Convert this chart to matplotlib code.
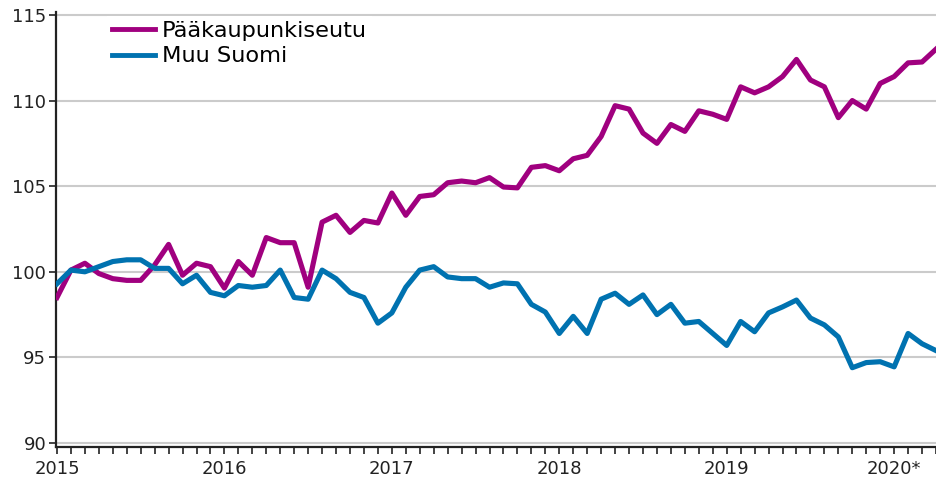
import matplotlib
matplotlib.use("Agg")
import matplotlib.pyplot as plt
import numpy as np

series_names = ["Pääkaupunkiseutu", "Muu Suomi"]
year_labels = ["2015", "2016", "2017", "2018", "2019", "2020*"]

paakaupunkiseutu = [
    98.5, 100.1, 100.5, 99.9, 99.6, 99.5, 99.5, 100.4, 101.6, 99.8, 100.5, 100.3,
    99.05, 100.6, 99.8, 102.0, 101.7, 101.7, 99.1, 102.9, 103.3, 102.3, 103.0, 102.85,
    104.6, 103.3, 104.4, 104.5, 105.2, 105.3, 105.2, 105.5, 104.95, 104.9, 106.1, 106.2,
    105.9, 106.6, 106.8, 107.9, 109.7, 109.5, 108.1, 107.5, 108.6, 108.2, 109.4, 109.2,
    108.9, 110.8, 110.45, 110.8, 111.4, 112.4, 111.2, 110.8, 109.0, 110.0, 109.5, 111.0,
    111.4, 112.2, 112.25, 113.0,
]
muu_suomi = [
    99.3, 100.1, 100.0, 100.3, 100.6, 100.7, 100.7, 100.2, 100.2, 99.3, 99.8, 98.8,
    98.6, 99.2, 99.1, 99.2, 100.1, 98.5, 98.4, 100.1, 99.6, 98.8, 98.5, 97.0,
    97.6, 99.1, 100.1, 100.3, 99.7, 99.6, 99.6, 99.1, 99.35, 99.3, 98.1, 97.65,
    96.4, 97.4, 96.4, 98.4, 98.75, 98.1, 98.65, 97.5, 98.1, 97.0, 97.1, 96.4,
    95.7, 97.1, 96.5, 97.6, 97.95, 98.35, 97.3, 96.9, 96.2, 94.4, 94.7, 94.75,
    94.45, 96.4, 95.8, 95.4,
]

purple = "#a0007f"
blue = "#0072b0"

W, H = 936, 479
fig = plt.figure(figsize=(W / 100, H / 100), dpi=100)
left_px, right_px, top_px, bottom_px = 56, 936, 12, 447
ax = fig.add_axes([left_px / W, 1 - bottom_px / H, (right_px - left_px) / W, (bottom_px - top_px) / H])

x = np.arange(len(paakaupunkiseutu))
ax.plot(x, paakaupunkiseutu, color=purple, lw=3.7, label=series_names[0], solid_joinstyle="round", zorder=3)
ax.plot(x, muu_suomi, color=blue, lw=3.7, label=series_names[1], solid_joinstyle="round", zorder=3)

ax.set_xlim(-0.07, 63)
ax.set_ylim(89.77, 115.17)
ax.set_yticks([90, 95, 100, 105, 110, 115])
ax.set_yticklabels(["90", "95", "100", "105", "110", "115"])
for v in [90, 95, 100, 105, 110, 115]:
    ax.axhline(v, color="#cbcbcb", lw=1.5, zorder=1)

ax.set_xticks(np.arange(0, 64, 12))
ax.set_xticklabels(year_labels)
ax.set_xticks(np.arange(0, 64, 1), minor=True)

for s in ["top", "right"]:
    ax.spines[s].set_visible(False)
for s in ["left", "bottom"]:
    ax.spines[s].set_color("#222222")
    ax.spines[s].set_linewidth(1.6)

ax.tick_params(axis="y", length=5, width=1.2, labelsize=13, pad=2, colors="#222222")
ax.tick_params(axis="x", which="both", length=5, width=1.2, labelsize=13, pad=4.5, colors="#222222")

leg = ax.legend(loc="upper left", bbox_to_anchor=(0.058, 0.99), frameon=True, fontsize=16.2,
                handlelength=1.95, handletextpad=0.3, labelspacing=0.25, borderpad=0.2,
                borderaxespad=0.0, fancybox=False)
leg.get_frame().set_edgecolor("none")
leg.get_frame().set_facecolor("white")
leg.get_frame().set_alpha(1)
for line in leg.get_lines():
    line.set_linewidth(3.5)
leg.set_zorder(5)

fig.savefig("out.png", dpi=100)
